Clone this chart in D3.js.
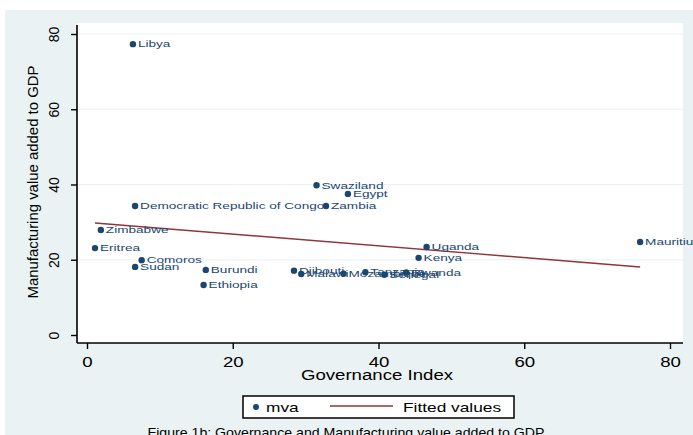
<!DOCTYPE html>
<html>
<head>
<meta charset="utf-8">
<script src="https://cdn.jsdelivr.net/npm/d3@7"></script>
<style>
  html, body { margin: 0; padding: 0; background: #ffffff; }
  svg { display: block; }
  text { font-family: Arial, "Liberation Sans", sans-serif; }
</style>
</head>
<body>
<svg id="chart" width="693" height="435"></svg>
<script>
// Countries, governance index and manufacturing value added (% of GDP)
const countries = ["Libya", "Swaziland", "Egypt", "Zambia", "Democratic Republic of Congo",
  "Zimbabwe", "Eritrea", "Comoros", "Sudan", "Burundi", "Ethiopia", "Uganda", "Kenya",
  "Mauritius", "Djibouti", "Malawi", "Mozambique", "Tanzania", "Senegal", "Rwanda"];
const governance = [6.3, 31.5, 35.8, 32.8, 6.6, 1.9, 1.1, 7.5, 6.6, 16.3, 16.0, 46.6, 45.5,
  75.9, 28.4, 29.4, 35.2, 38.2, 40.8, 43.8];
const mva = [77.3, 39.8, 37.5, 34.3, 34.3, 27.9, 23.1, 19.9, 18.1, 17.3, 13.3, 23.4, 20.5,
  24.7, 17.1, 16.2, 16.3, 16.7, 16.0, 16.6];

// Fitted values (linear fit) at the ends of the governance range
const fitX = [1.1, 75.9];
const fitY = [29.8, 18.1];

const xTicks = [0, 20, 40, 60, 80];
const yTicks = [0, 20, 40, 60, 80];

const navy = "#1a476f";
const maroon = "#90353b";
const bg = "#eaf2f3";
const stretch = 1.33;

const svg = d3.select("#chart");

// widen horizontal text glyphs
function widen(sel, factor) {
  sel.each(function () {
    const w = this.getComputedTextLength();
    d3.select(this).attr("textLength", w * factor).attr("lengthAdjust", "spacingAndGlyphs");
  });
}

// graph region and plot region
svg.append("rect").attr("x", 5).attr("y", 10).attr("width", 688).attr("height", 425).attr("fill", bg);
svg.append("rect").attr("x", 77).attr("y", 23).attr("width", 606).attr("height", 320).attr("fill", "#ffffff");

const x = d3.scaleLinear().domain([0, 80]).range([87, 670]);
const y = d3.scaleLinear().domain([0, 80]).range([335, 34]);

// gridlines
svg.append("g").selectAll("line").data(yTicks.filter(d => d > 0)).join("line")
  .attr("x1", 78).attr("x2", 683)
  .attr("y1", d => y(d)).attr("y2", d => y(d))
  .attr("stroke", bg).attr("stroke-width", 1.2);

// y axis
const yAxis = svg.append("g").attr("transform", "translate(77,0)")
  .call(d3.axisLeft(y).tickValues(yTicks).tickSize(6).tickPadding(6));
yAxis.select(".domain").remove();
yAxis.selectAll(".tick line").attr("stroke", "#000").attr("stroke-width", 1.4);
yAxis.selectAll(".tick text")
  .attr("x", null).attr("dy", null)
  .attr("transform", "translate(-18,0) rotate(-90)")
  .attr("text-anchor", "middle")
  .attr("font-size", 14).attr("fill", "#000");
svg.append("line").attr("x1", 77).attr("x2", 77).attr("y1", 25).attr("y2", 343)
  .attr("stroke", "#000").attr("stroke-width", 1.6);

// x axis
const xAxis = svg.append("g").attr("transform", "translate(0,343)")
  .call(d3.axisBottom(x).tickValues(xTicks).tickSize(6).tickPadding(5));
xAxis.select(".domain").remove();
xAxis.selectAll(".tick line").attr("stroke", "#000").attr("stroke-width", 1.4);
xAxis.selectAll(".tick text").attr("font-size", 14).attr("fill", "#000").attr("dy", "0.95em");
widen(xAxis.selectAll(".tick text"), stretch);
svg.append("line").attr("x1", 77).attr("x2", 683).attr("y1", 343).attr("y2", 343)
  .attr("stroke", "#000").attr("stroke-width", 1.6);

// axis titles
const xt = svg.append("text").attr("x", 377).attr("y", 380).attr("text-anchor", "middle")
  .attr("font-size", 14).attr("fill", "#000").text("Governance Index");
widen(xt, stretch);
svg.append("text").attr("transform", "translate(38,182) rotate(-90)").attr("text-anchor", "middle")
  .attr("font-size", 14).attr("fill", "#000").attr("textLength", 233).attr("lengthAdjust", "spacingAndGlyphs")
  .text("Manufacturing value added to GDP");

// fitted line
svg.append("line")
  .attr("x1", x(fitX[0])).attr("y1", y(fitY[0]))
  .attr("x2", x(fitX[1])).attr("y2", y(fitY[1]))
  .attr("stroke", maroon).attr("stroke-width", 1.5);

// points and labels
const pts = countries.map((c, i) => ({ c, g: governance[i], v: mva[i] }));
svg.append("g").selectAll("circle").data(pts).join("circle")
  .attr("cx", d => x(d.g)).attr("cy", d => y(d.v)).attr("r", 3.2).attr("fill", navy);
const labels = svg.append("g").selectAll("text").data(pts).join("text")
  .attr("x", d => x(d.g) + 5).attr("y", d => y(d.v)).attr("dy", "0.35em")
  .attr("font-size", 9.5).attr("fill", navy).text(d => d.c);
widen(labels, 1.43);

// legend
svg.append("rect").attr("x", 243).attr("y", 396).attr("width", 271).attr("height", 22)
  .attr("fill", "#fff").attr("stroke", "#000").attr("stroke-width", 1.5);
svg.append("circle").attr("cx", 256).attr("cy", 407).attr("r", 3).attr("fill", navy);
const l1 = svg.append("text").attr("x", 266).attr("y", 412).attr("font-size", 13).attr("fill", "#000").text("mva");
widen(l1, stretch);
svg.append("line").attr("x1", 330).attr("x2", 393).attr("y1", 406).attr("y2", 406)
  .attr("stroke", maroon).attr("stroke-width", 1.5);
const l2 = svg.append("text").attr("x", 403).attr("y", 412).attr("font-size", 13).attr("fill", "#000").text("Fitted values");
widen(l2, stretch);

// caption
svg.append("text").attr("x", 346).attr("y", 437).attr("text-anchor", "middle")
  .attr("font-size", 13).attr("fill", "#000").attr("textLength", 397).attr("lengthAdjust", "spacingAndGlyphs")
  .text("Figure 1b: Governance and Manufacturing value added to GDP");
</script>
</body>
</html>
